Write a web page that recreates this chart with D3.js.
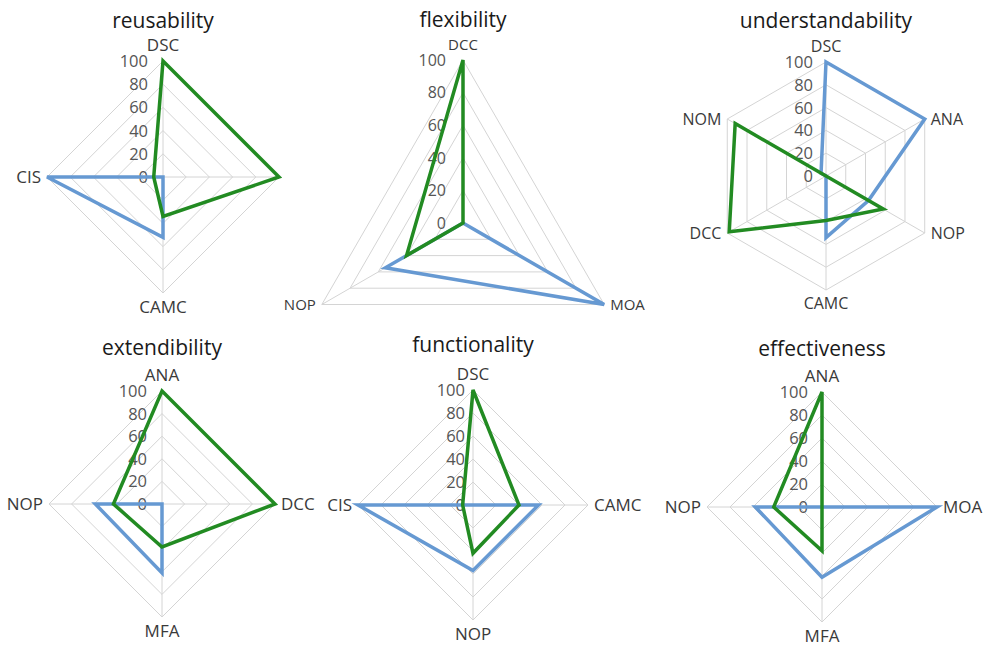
<!DOCTYPE html>
<html>
<head>
<meta charset="utf-8">
<script src="https://cdn.jsdelivr.net/npm/d3@7"></script>
<style>
  body { margin: 0; background: #fff; }
  text { font-family: "Open Sans", sans-serif; }
</style>
</head>
<body>
<div id="chart"></div>
<script>
// radar data, values (0-100)
var tickValues = [0, 20, 40, 60, 80, 100];

var reusabilityAxes = ["DSC", "NOP", "CAMC", "CIS"];
var reusabilityGreen = [100, 100, 34, 8];
var reusabilityBlue = [0, 0, 52, 100];

var flexibilityAxes = ["DCC", "MOA", "NOP"];
var flexibilityGreen = [100, 0, 40];
var flexibilityBlue = [0, 100, 55];

var understandabilityAxes = ["DSC", "ANA", "NOP", "CAMC", "DCC", "NOM"];
var understandabilityGreen = [0, 0, 58, 39, 98, 92];
var understandabilityBlue = [100, 100, 43, 54, 0, 5];

var extendibilityAxes = ["ANA", "DCC", "MFA", "NOP"];
var extendibilityGreen = [100, 100, 38, 43];
var extendibilityBlue = [0, 0, 61, 59];

var functionalityAxes = ["DSC", "CAMC", "NOP", "CIS"];
var functionalityGreen = [100, 40, 42, 9];
var functionalityBlue = [0, 57, 57, 100];

var effectivenessAxes = ["ANA", "MOA", "MFA", "NOP"];
var effectivenessGreen = [100, 0, 38, 42];
var effectivenessBlue = [0, 100, 61, 58];

// layout of each panel
var charts = [
  {title: "reusability", axes: reusabilityAxes, green: reusabilityGreen, blue: reusabilityBlue,
   cx: 163, cy: 177, r: 116, titleY: 28, labelSize: 17, tickSize: 16.5, tickOff: 15, hide: ["NOP"]},
  {title: "flexibility", axes: flexibilityAxes, green: flexibilityGreen, blue: flexibilityBlue,
   cx: 463, cy: 223, r: 163, titleY: 27, labelSize: 15, tickSize: 16, tickOff: 17, hide: []},
  {title: "understandability", axes: understandabilityAxes, green: understandabilityGreen, blue: understandabilityBlue,
   cx: 826, cy: 176, r: 114, titleY: 28, labelSize: 16, tickSize: 16.5, tickOff: 13, hide: []},
  {title: "extendibility", axes: extendibilityAxes, green: extendibilityGreen, blue: extendibilityBlue,
   cx: 162, cy: 504, r: 113, titleY: 355, labelSize: 17, tickSize: 16.5, tickOff: 15, hide: []},
  {title: "functionality", axes: functionalityAxes, green: functionalityGreen, blue: functionalityBlue,
   cx: 473, cy: 505, r: 115, titleY: 352, labelSize: 17, tickSize: 16.5, tickOff: 8, hide: []},
  {title: "effectiveness", axes: effectivenessAxes, green: effectivenessGreen, blue: effectivenessBlue,
   cx: 822, cy: 507, r: 115, titleY: 356, labelSize: 17, tickSize: 16.5, tickOff: 14, hide: []}
];

var width = 994, height = 651;
var green = "#228b22", blue = "#6699d2";

var svg = d3.select("#chart").append("svg")
  .attr("width", width)
  .attr("height", height);

charts.forEach(function(c) {
  var n = c.axes.length;
  var angle = d3.scaleLinear().domain([0, n]).range([0, 2 * Math.PI]);
  var rScale = d3.scaleLinear().domain([0, 100]).range([0, c.r]);

  var g = svg.append("g").attr("transform", "translate(" + c.cx + "," + c.cy + ")");

  var radial = d3.lineRadial()
    .angle(function(d, i) { return angle(i); })
    .radius(function(d) { return rScale(d); })
    .curve(d3.curveLinearClosed);

  // grid rings
  tickValues.slice(1).forEach(function(t) {
    g.append("path")
      .attr("d", radial(c.axes.map(function() { return t; })))
      .attr("fill", "none")
      .attr("stroke", "#d4d4d4")
      .attr("stroke-width", 1);
  });

  // spokes
  g.selectAll("line.spoke").data(c.axes).enter().append("line")
    .attr("class", "spoke")
    .attr("x1", 0).attr("y1", 0)
    .attr("x2", function(d, i) { return rScale(100) * Math.sin(angle(i)); })
    .attr("y2", function(d, i) { return -rScale(100) * Math.cos(angle(i)); })
    .attr("stroke", "#d4d4d4")
    .attr("stroke-width", 1);

  // tick labels
  g.selectAll("text.tick").data(tickValues).enter().append("text")
    .attr("class", "tick")
    .attr("x", -c.tickOff)
    .attr("y", function(d) { return -rScale(d); })
    .attr("dy", "0.36em")
    .attr("text-anchor", "end")
    .attr("font-size", c.tickSize)
    .attr("fill", "#555")
    .text(function(d) { return d; });

  // series
  [[c.blue, blue], [c.green, green]].forEach(function(s) {
    g.append("path")
      .attr("d", radial(s[0]))
      .attr("fill", "none")
      .attr("stroke", s[1])
      .attr("stroke-width", 3.5)
      .attr("stroke-linejoin", "miter");
  });

  // axis labels
  g.selectAll("text.axis").data(c.axes).enter().append("text")
    .attr("class", "axis")
    .filter(function(d) { return c.hide.indexOf(d) < 0; })
    .each(function(d) {
      var a = angle(c.axes.indexOf(d));
      var sx = Math.sin(a), sy = -Math.cos(a);
      var x = c.r * sx, y = c.r * sy;
      var anchor = "middle", dy = "0.36em";
      if (sx > 0.3) { anchor = "start"; x += 6; }
      else if (sx < -0.3) { anchor = "end"; x -= 6; }
      else if (sy < 0) { y -= 10; dy = "0em"; }
      else { y += 5; dy = "0.9em"; }
      d3.select(this)
        .attr("x", x).attr("y", y).attr("dy", dy)
        .attr("text-anchor", anchor);
    })
    .attr("font-size", c.labelSize)
    .attr("fill", "#3a3a3a")
    .text(function(d) { return d; });

  // title
  svg.append("text")
    .attr("x", c.cx)
    .attr("y", c.titleY)
    .attr("text-anchor", "middle")
    .attr("font-size", 21)
    .attr("fill", "#1a1a1a")
    .text(c.title);
});
</script>
</body>
</html>
